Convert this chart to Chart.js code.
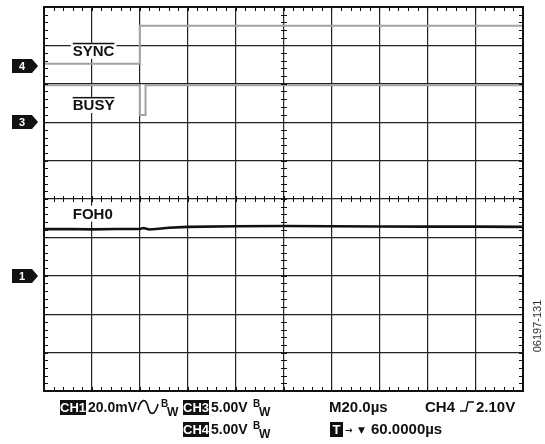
<!DOCTYPE html>
<html>
<head>
<meta charset="utf-8">
<script src="https://cdn.jsdelivr.net/npm/chart.js@4.4.1/dist/chart.umd.min.js"></script>
<style>
  html, body { margin: 0; padding: 0; background: #fff; }
  #wrap { position: relative; width: 545px; height: 444px; }
</style>
</head>
<body>
<div id="wrap"><canvas id="scope" width="545" height="444"></canvas></div>
<script>
// Scope capture: SYNC (CH4), BUSY (CH3), FOH0 (CH1). Time in µs, M20.0µs/div.

const TIME_MIN = 0;
const TIME_MAX = 200;
const TIME_STEP = 20;

// CH4 – SYNC (V)
const SYNC_T = [0, 40, 40, 200];
const SYNC_V = [0.3, 0.3, 5.25, 5.25];

// CH3 – BUSY (V)
const BUSY_T = [0, 40, 40, 42.4, 42.4, 200];
const BUSY_V = [4.8, 4.8, 0.95, 0.95, 4.8, 4.8];

// CH1 – FOH0 (mV)
const FOH0_T  = [0, 10, 20, 30, 40, 41.5, 44, 48, 52, 60, 80, 100, 120, 140, 160, 180, 200];
const FOH0_MV = [24.3, 24.4, 24.2, 24.4, 24.4, 24.9, 24.1, 24.5, 25.0, 25.5, 25.8, 25.9, 25.8, 25.7, 25.6, 25.6, 25.5];

// channel settings: volts/div and ground marker (in divisions from bottom)
const CH1 = { scale: 20, ground: 3.0 };
const CH3 = { scale: 5, ground: 7.0 };
const CH4 = { scale: 5, ground: 8.46 };

const TRACE_LABELS = ["SYNC", "BUSY", "FOH0"];

const toPoints = (ts, vs, ch) => ts.map((t, i) => ({ x: t, y: ch.ground + vs[i] / ch.scale }));

const GRAY = "#a2a2a2";
const INK = "#111";
const FONT = "'Liberation Sans', Arial, sans-serif";

const scopeDecor = {
  id: "scopeDecor",
  afterDraw(chart) {
    const { ctx, chartArea: a, scales: { x, y } } = chart;
    ctx.save();

    // minor ticks: 5 per division, on the frame and on the centre lines
    const xc = Math.round(x.getPixelForValue((TIME_MIN + TIME_MAX) / 2));
    const yc = Math.round(y.getPixelForValue(5));
    ctx.strokeStyle = INK;
    ctx.lineWidth = 1;
    ctx.beginPath();
    for (let k = 0; k <= 50; k++) {
      const px = Math.round(x.getPixelForValue(TIME_MIN + k * (TIME_STEP / 5))) + 0.5;
      ctx.moveTo(px, a.top); ctx.lineTo(px, a.top + 4);
      ctx.moveTo(px, a.bottom); ctx.lineTo(px, a.bottom - 4);
      ctx.moveTo(px, yc - 3); ctx.lineTo(px, yc + 3);
      const py = Math.round(y.getPixelForValue(k * 0.2)) + 0.5;
      ctx.moveTo(a.left, py); ctx.lineTo(a.left + 4, py);
      ctx.moveTo(a.right, py); ctx.lineTo(a.right - 4, py);
      ctx.moveTo(xc - 3, py); ctx.lineTo(xc + 3, py);
    }
    ctx.stroke();

    // frame
    ctx.lineWidth = 2;
    ctx.strokeRect(a.left, a.top, a.right - a.left, a.bottom - a.top);

    // trace names, white backing, overline for active-low signals
    ctx.font = "bold 15px " + FONT;
    ctx.textBaseline = "middle";
    const names = [
      { text: TRACE_LABELS[0], t: 12, d: 8.86, bar: true },
      { text: TRACE_LABELS[1], t: 12, d: 7.45, bar: true },
      { text: TRACE_LABELS[2], t: 12, d: 4.62, bar: false },
    ];
    for (const n of names) {
      const px = x.getPixelForValue(n.t);
      const py = y.getPixelForValue(n.d);
      const w = ctx.measureText(n.text).width;
      ctx.fillStyle = "#fff";
      ctx.fillRect(px - 2, py - 8, w + 4, 16);
      ctx.fillStyle = INK;
      ctx.fillText(n.text, px, py + 1);
      if (n.bar) ctx.fillRect(px, py - 8, w, 1.5);
    }

    // ground markers on the left
    const markers = [["4", CH4.ground], ["3", CH3.ground], ["1", CH1.ground]];
    ctx.font = "bold 11px " + FONT;
    ctx.textAlign = "center";
    for (const [lbl, g] of markers) {
      const py = Math.round(y.getPixelForValue(g));
      ctx.fillStyle = INK;
      ctx.beginPath();
      ctx.moveTo(12, py - 7); ctx.lineTo(32, py - 7); ctx.lineTo(38, py);
      ctx.lineTo(32, py + 7); ctx.lineTo(12, py + 7); ctx.closePath();
      ctx.fill();
      ctx.fillStyle = "#fff";
      ctx.fillText(lbl, 22, py + 1);
    }

    // readout
    ctx.textAlign = "left";
    ctx.textBaseline = "alphabetic";
    const big = "bold 14px " + FONT;
    const wide = "bold 15px " + FONT;
    const boxText = (s, px, w, base) => {
      ctx.fillStyle = INK;
      ctx.fillRect(px, base - 12, w, 15);
      ctx.font = "bold 13px " + FONT;
      ctx.fillStyle = "#fff";
      ctx.textAlign = "center";
      ctx.fillText(s, px + w / 2, base);
      ctx.textAlign = "left";
    };
    const txt = (s, px, base, f) => {
      ctx.font = f || big;
      ctx.fillStyle = INK;
      ctx.fillText(s, px, base);
    };
    const bw = (px, base) => {
      txt("B", px, base - 5, "bold 10px " + FONT);
      txt("W", px + 6, base + 4, "bold 12px " + FONT);
    };
    const r1 = 412, r2 = 434;
    boxText("CH1", 60, 26, r1);
    txt("20.0mV", 88, r1);
    // AC coupling symbol
    ctx.strokeStyle = INK; ctx.lineWidth = 1.6;
    ctx.beginPath();
    ctx.moveTo(138, r1 - 2);
    ctx.bezierCurveTo(141, r1 - 14, 146, r1 - 14, 148, r1 - 5);
    ctx.bezierCurveTo(150, r1 + 4, 155, r1 + 4, 158, r1 - 8);
    ctx.stroke();
    bw(161, r1);
    boxText("CH3", 183, 26, r1);
    txt("5.00V", 211, r1);
    bw(253, r1);
    txt("M20.0µs", 329, r1, wide);
    txt("CH4", 425, r1, wide);
    ctx.lineWidth = 1.4;
    ctx.beginPath();
    ctx.moveTo(460, r1 - 1); ctx.lineTo(466, r1 - 1);
    ctx.lineTo(468, r1 - 10); ctx.lineTo(474, r1 - 10);
    ctx.stroke();
    txt("2.10V", 476, r1, wide);

    boxText("CH4", 183, 26, r2);
    txt("5.00V", 211, r2);
    bw(253, r2);
    boxText("T", 330, 13, r2);
    txt("→", 345, r2 - 1, "bold 9px 'DejaVu Sans', sans-serif");
    txt("▼", 358, r2 - 1, "9px 'DejaVu Sans', sans-serif");
    txt("60.0000µs", 371, r2, wide);

    // figure id
    ctx.save();
    ctx.translate(541, 326);
    ctx.rotate(-Math.PI / 2);
    ctx.font = "11px " + FONT;
    ctx.fillStyle = "#333";
    ctx.textAlign = "center";
    ctx.fillText("06197-131", 0, 0);
    ctx.restore();

    ctx.restore();
  },
};

const edge = (v, lo, hi) => v === lo || v === hi;

new Chart(document.getElementById("scope"), {
  type: "line",
  data: {
    datasets: [
      { label: TRACE_LABELS[0], data: toPoints(SYNC_T, SYNC_V, CH4), borderColor: GRAY, borderWidth: 2 },
      { label: TRACE_LABELS[1], data: toPoints(BUSY_T, BUSY_V, CH3), borderColor: GRAY, borderWidth: 2 },
      { label: TRACE_LABELS[2], data: toPoints(FOH0_T, FOH0_MV, CH1), borderColor: INK, borderWidth: 2.6 },
    ],
  },
  options: {
    responsive: false,
    animation: false,
    devicePixelRatio: 1,
    layout: { padding: { left: 44, right: 22, top: 7, bottom: 53 } },
    elements: { point: { radius: 0 }, line: { tension: 0 } },
    plugins: { legend: { display: false }, tooltip: { enabled: false } },
    scales: {
      x: {
        type: "linear", min: TIME_MIN, max: TIME_MAX,
        ticks: { stepSize: TIME_STEP, display: false },
        grid: { color: "#222", lineWidth: (c) => edge(c.tick.value, TIME_MIN, TIME_MAX) ? 0 : 1.2, drawTicks: false },
        border: { display: false },
      },
      y: {
        type: "linear", min: 0, max: 10,
        ticks: { stepSize: 1, display: false },
        grid: { color: "#222", lineWidth: (c) => edge(c.tick.value, 0, 10) ? 0 : 1.2, drawTicks: false },
        border: { display: false },
      },
    },
  },
  plugins: [scopeDecor],
});
</script>
</body>
</html>
